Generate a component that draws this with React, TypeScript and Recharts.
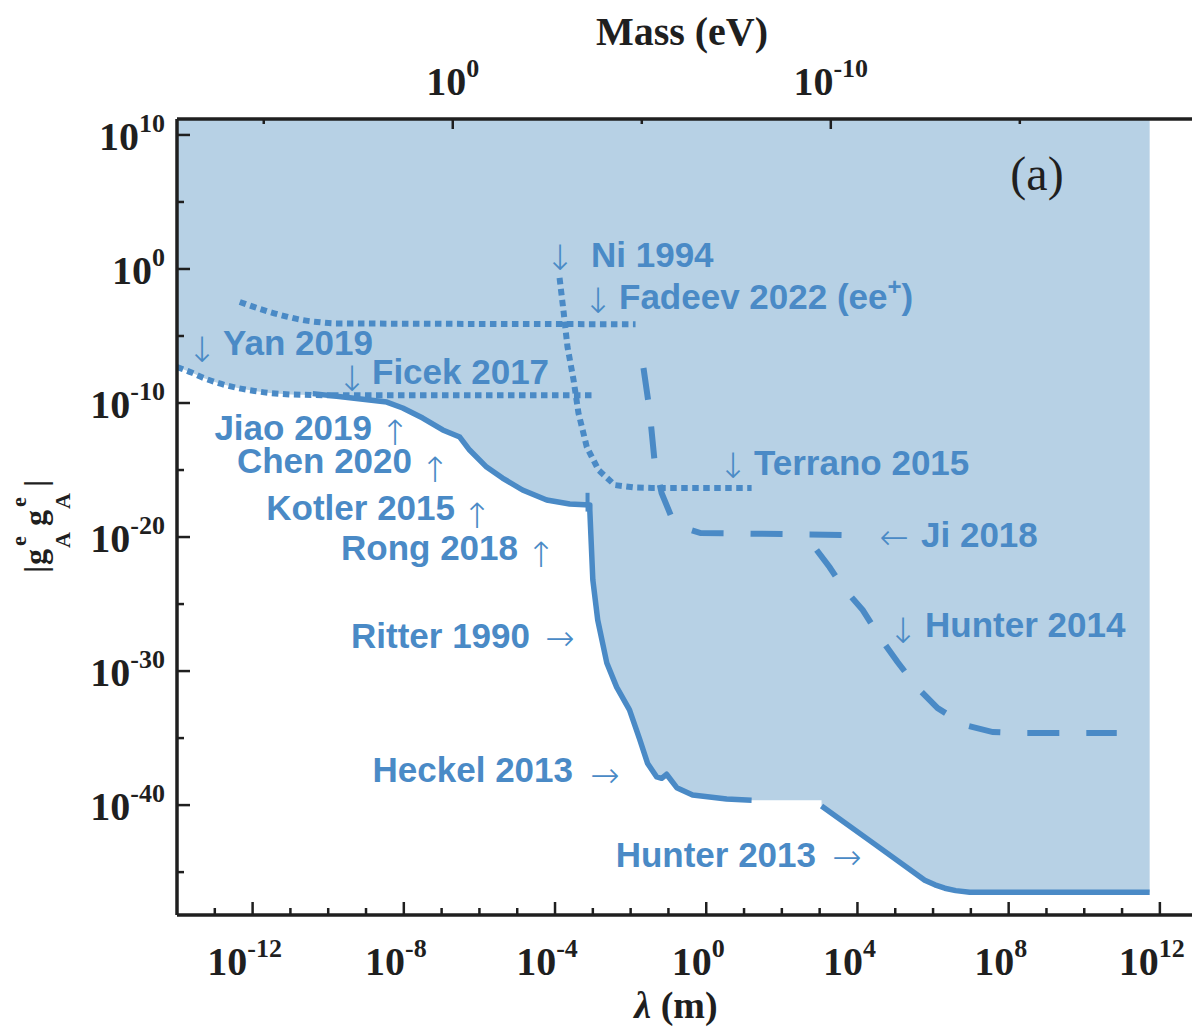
import React from 'react';
import { ComposedChart, Line, Area, XAxis, YAxis } from 'recharts';

const W = 1192;
const H = 1028;
const BLUE = '#4a8ac6';
const FILL = '#b7d1e5';
const INK = '#1f1f1f';
const SERIF = '"Liberation Serif", "Times New Roman", serif';
const SANS = '"Liberation Sans", Arial, sans-serif';
const ARROW_FONT = '"DejaVu Sans", sans-serif';

// both axes are log10 values
const X_MIN = -14;
const X_MAX = 12.85;
const Y_MIN = -48.2;
const Y_MAX = 11.19;
const LOG_HBARC = Math.log10(1.973e-7); // lambda (m) = hbar*c / m (eV)

const lambdaTicks = [-13, -12, -11, -10, -9, -8, -7, -6, -5, -4, -3, -2, -1, 0, 1, 2, 3, 4, 5, 6, 7, 8, 9, 10, 11, 12];
const lambdaLabels = [-12, -8, -4, 0, 4, 8, 12];
const couplingTicks = [10, 5, 0, -5, -10, -15, -20, -25, -30, -35, -40, -45];
const couplingLabels = [10, 0, -10, -20, -30, -40];
const massTicks = [5, 0, -5, -10, -15];
const massLabels = [0, -10];

// Yan 2019 (dotted)
const yanLambda = [-14.0, -13.6, -13.3, -12.9, -12.4, -11.95, -11.55, -11.0, -10.45, -9.9];
const yanCoupling = [-7.31, -7.75, -8.13, -8.52, -8.88, -9.1, -9.25, -9.36, -9.4, -9.42];
// Ficek 2017 (dotted)
const ficekLambda = [-9.9, -2.95];
const ficekCoupling = [-9.42, -9.42];
// Fadeev 2022 (ee+) (dotted)
const fadeevLambda = [-12.34, -11.95, -11.55, -11.1, -10.68, -10.2, -9.8, -1.87];
const fadeevCoupling = [-2.46, -2.85, -3.21, -3.55, -3.81, -3.98, -4.06, -4.12];
// Ni 1994 running into Terrano 2015 (dotted)
const niLambda = [-3.88, -3.77, -3.67, -3.51, -3.38, -3.16, -2.85, -2.42, -1.9, -1.44, 1.2];
const niCoupling = [-0.67, -3.28, -5.82, -8.28, -10.75, -13.28, -15.0, -16.12, -16.3, -16.34, -16.34];
// Ji 2018 (dashed)
const jiLambda = [-1.66, -1.5, -1.37, -1.18, -0.92, -0.49, -0.15, 3.85];
const jiCoupling = [-7.39, -10.52, -14.25, -16.72, -18.5, -19.4, -19.7, -19.85];
// Hunter 2014 (dashed)
const hunter14Lambda = [2.92, 3.26, 3.61, 4.14, 4.59, 5.06, 5.57, 6.12, 6.84, 7.58, 8.29, 10.86];
const hunter14Coupling = [-20.97, -22.24, -23.73, -25.45, -27.46, -29.33, -31.19, -32.76, -34.03, -34.55, -34.63, -34.63];
// solid bound: Jiao, Chen, Kotler, Rong, Ritter, Heckel
const boundLambda = [-10.41, -9.43, -8.45, -8.03, -7.5, -6.97, -6.52, -6.26, -5.81, -5.39, -4.86, -4.22, -3.61, -3.08, -3.08, -3.0, -2.87, -2.63, -2.37, -2.03, -1.76, -1.55, -1.31, -1.18, -1.05, -0.78, -0.36, 0.54, 1.2];
const boundCoupling = [-9.3, -9.6, -9.93, -10.37, -11.12, -12.01, -12.54, -13.51, -14.78, -15.6, -16.49, -17.24, -17.54, -17.61, -17.99, -23.2, -26.2, -29.4, -31.2, -32.9, -35.1, -36.9, -37.9, -38.0, -37.7, -38.7, -39.25, -39.55, -39.63];
// Rong 2018 end cap
const rongCapLambda = [-3.14, -3.14];
const rongCapCoupling = [-16.7, -18.1];
// Hunter 2013 (solid)
const hunter13Lambda = [3.05, 4.4, 5.78, 6.05, 6.31, 6.6, 6.97, 11.73];
const hunter13Coupling = [-40.07, -42.8, -45.6, -45.95, -46.2, -46.38, -46.5, -46.5];

const zip = (xs: number[], ys: number[]) => xs.map((x, i) => ({ x, g: ys[i] }));

const yanData = zip(yanLambda, yanCoupling);
const ficekData = zip(ficekLambda, ficekCoupling);
const fadeevData = zip(fadeevLambda, fadeevCoupling);
const niData = zip(niLambda, niCoupling);
const jiData = zip(jiLambda, jiCoupling);
const hunter14Data = zip(hunter14Lambda, hunter14Coupling);
const boundData = zip(boundLambda, boundCoupling);
const rongCapData = zip(rongCapLambda, rongCapCoupling);
const hunter13Data = zip(hunter13Lambda, hunter13Coupling);

// excluded region: everything above the envelope of the bounds
const fillData = [
    ...yanData.filter(p => p.x < boundLambda[0]),
    ...boundData,
    { x: hunter13Lambda[0], g: boundCoupling[boundCoupling.length - 1] },
    ...hunter13Data,
];

const DOTS = '6.5 4.5';
const DASHES = '32 27';

const LambdaTick = (props: any) => {
    const { x, y, payload } = props;
    const v = payload.value;
    const major = lambdaLabels.includes(v);
    return (
        <g>
            <line x1={x} x2={x} y1={y} y2={y - (major ? 13 : 7)} stroke={INK} strokeWidth={2.5} />
            {major && (
                <text x={x - 8} y={y + 60} textAnchor="middle" fontFamily={SERIF} fontWeight="bold" fontSize={40} fill={INK}>
                    10<tspan dy={-18} fontSize={26}>{v}</tspan>
                </text>
            )}
        </g>
    );
};

const MassTick = (props: any) => {
    const { x, y, payload } = props;
    const m = Math.round(LOG_HBARC - payload.value);
    const major = massLabels.includes(m);
    return (
        <g>
            <line x1={x} x2={x} y1={y} y2={y + (major ? 10 : 5)} stroke={INK} strokeWidth={2.5} />
            {major && (
                <text x={x} y={y - 24} textAnchor="middle" fontFamily={SERIF} fontWeight="bold" fontSize={40} fill={INK}>
                    10<tspan dy={-18} fontSize={26}>{m}</tspan>
                </text>
            )}
        </g>
    );
};

const CouplingTick = (props: any) => {
    const { x, y, payload } = props;
    const v = payload.value;
    const major = couplingLabels.includes(v);
    return (
        <g>
            <line x1={x} x2={x + (major ? 13 : 7)} y1={y} y2={y} stroke={INK} strokeWidth={2.5} />
            {major && (
                <text x={x - 12} y={y + 15} textAnchor="end" fontFamily={SERIF} fontWeight="bold" fontSize={40} fill={INK}>
                    10<tspan dy={-18} fontSize={26}>{v}</tspan>
                </text>
            )}
        </g>
    );
};

const leftLabels = [
    { text: 'Ni 1994', x: 591, y: 267 },
    { text: 'Yan 2019', x: 223, y: 355 },
    { text: 'Ficek 2017', x: 372, y: 384 },
    { text: 'Terrano 2015', x: 754, y: 475 },
    { text: 'Ji 2018', x: 921, y: 547 },
    { text: 'Hunter 2014', x: 925, y: 637 },
];
const rightLabels = [
    { text: 'Jiao 2019', x: 372, y: 440 },
    { text: 'Chen 2020', x: 412, y: 473 },
    { text: 'Kotler 2015', x: 455, y: 520 },
    { text: 'Rong 2018', x: 518, y: 560 },
    { text: 'Ritter 1990', x: 530, y: 648 },
    { text: 'Heckel 2013', x: 573, y: 782 },
    { text: 'Hunter 2013', x: 816, y: 867 },
];
// arrow glyph, its centre x and baseline y
const arrows = [
    { c: '↓', x: 560, y: 270 },
    { c: '↓', x: 598, y: 313 },
    { c: '↓', x: 202, y: 362 },
    { c: '↓', x: 352, y: 391 },
    { c: '↓', x: 733, y: 478 },
    { c: '↓', x: 903, y: 643 },
    { c: '↑', x: 395, y: 445 },
    { c: '↑', x: 435, y: 482 },
    { c: '↑', x: 477, y: 528 },
    { c: '↑', x: 541, y: 567 },
    { c: '→', x: 560, y: 650 },
    { c: '→', x: 605, y: 787 },
    { c: '→', x: 847, y: 869 },
    { c: '←', x: 894, y: 549 },
];

const Overlay = () => (
    <svg width={W} height={H} style={{ position: 'absolute', left: 0, top: 0, pointerEvents: 'none' }}>
        <text x={682} y={45} textAnchor="middle" fontFamily={SERIF} fontWeight="bold" fontSize={40} fill={INK}>Mass (eV)</text>
        <text x={676} y={1018} textAnchor="middle" fontFamily={SERIF} fontWeight="bold" fontSize={38} fill={INK}>
            <tspan fontStyle="italic">λ</tspan> (m)
        </text>
        <text x={1037} y={190} textAnchor="middle" fontFamily={SERIF} fontSize={48} fill={INK}>(a)</text>
        <g transform="translate(0,518) rotate(-90)" fontFamily={SERIF} fontWeight="bold" fill={INK}>
            <text x={-55} y={46} fontSize={32}>|</text>
            <text x={-47} y={46} fontSize={32}>g</text>
            <text x={-30} y={70} fontSize={22}>A</text>
            <text x={-28} y={26} fontSize={22}>e</text>
            <text x={-8} y={46} fontSize={32}>g</text>
            <text x={9} y={70} fontSize={22}>A</text>
            <text x={11} y={26} fontSize={22}>e</text>
            <text x={31} y={46} fontSize={32}>|</text>
        </g>
        <g fontFamily={SANS} fontWeight="bold" fontSize={35} fill={BLUE}>
            {leftLabels.map(l => (
                <text key={l.text} x={l.x} y={l.y}>{l.text}</text>
            ))}
            {rightLabels.map(l => (
                <text key={l.text} x={l.x} y={l.y} textAnchor="end">{l.text}</text>
            ))}
            <text x={619} y={309}>
                Fadeev 2022 (ee<tspan dy={-14} fontSize={24}>+</tspan><tspan dy={14}>)</tspan>
            </text>
        </g>
        <g fontFamily={ARROW_FONT} fontWeight={200} fontSize={35} fill={BLUE}>
            {arrows.map((a, i) => (
                <text key={i} x={a.x} y={a.y} textAnchor="middle">{a.c}</text>
            ))}
        </g>
    </svg>
);

export default function App() {
    return (
        <div style={{ position: 'absolute', left: 0, top: 0, width: W, height: H, background: '#fff', overflow: 'hidden' }}>
            <ComposedChart width={W} height={H} margin={{ top: 0, right: 0, bottom: 0, left: 0 }}>
                <Area
                    data={fillData}
                    dataKey="g"
                    type="linear"
                    baseValue={Y_MAX}
                    fill={FILL}
                    fillOpacity={1}
                    stroke="none"
                    isAnimationActive={false}
                />
                <Line data={yanData} dataKey="g" type="monotone" stroke={BLUE} strokeWidth={6} strokeDasharray={DOTS} dot={false} isAnimationActive={false} />
                <Line data={ficekData} dataKey="g" type="linear" stroke={BLUE} strokeWidth={6} strokeDasharray={DOTS} dot={false} isAnimationActive={false} />
                <Line data={fadeevData} dataKey="g" type="monotone" stroke={BLUE} strokeWidth={6} strokeDasharray={DOTS} dot={false} isAnimationActive={false} />
                <Line data={niData} dataKey="g" type="linear" stroke={BLUE} strokeWidth={6} strokeDasharray={DOTS} dot={false} isAnimationActive={false} />
                <Line data={jiData} dataKey="g" type="linear" stroke={BLUE} strokeWidth={6} strokeDasharray={DASHES} dot={false} isAnimationActive={false} />
                <Line data={hunter14Data} dataKey="g" type="linear" stroke={BLUE} strokeWidth={6} strokeDasharray={DASHES} dot={false} isAnimationActive={false} />
                <Line data={boundData} dataKey="g" type="linear" stroke={BLUE} strokeWidth={5.5} strokeLinejoin="round" dot={false} isAnimationActive={false} />
                <Line data={rongCapData} dataKey="g" type="linear" stroke={BLUE} strokeWidth={4} dot={false} isAnimationActive={false} />
                <Line data={hunter13Data} dataKey="g" type="linear" stroke={BLUE} strokeWidth={5.5} strokeLinejoin="round" dot={false} isAnimationActive={false} />
                <XAxis
                    dataKey="x"
                    type="number"
                    domain={[X_MIN, X_MAX]}
                    allowDataOverflow
                    ticks={lambdaTicks}
                    interval={0}
                    height={113}
                    axisLine={{ stroke: INK, strokeWidth: 3.5 }}
                    tickLine={false}
                    tickSize={0}
                    tickMargin={0}
                    tick={<LambdaTick />}
                />
                <XAxis
                    xAxisId="mass"
                    orientation="top"
                    dataKey="x"
                    type="number"
                    domain={[X_MIN, X_MAX]}
                    allowDataOverflow
                    ticks={massTicks.map(m => LOG_HBARC - m)}
                    interval={0}
                    height={119}
                    axisLine={{ stroke: INK, strokeWidth: 3.5 }}
                    tickLine={false}
                    tickSize={0}
                    tickMargin={0}
                    tick={<MassTick />}
                />
                <YAxis
                    type="number"
                    domain={[Y_MIN, Y_MAX]}
                    allowDataOverflow
                    ticks={couplingTicks}
                    interval={0}
                    width={177}
                    axisLine={{ stroke: INK, strokeWidth: 3.5 }}
                    tickLine={false}
                    tickSize={0}
                    tickMargin={0}
                    tick={<CouplingTick />}
                />
            </ComposedChart>
            <Overlay />
        </div>
    );
}
